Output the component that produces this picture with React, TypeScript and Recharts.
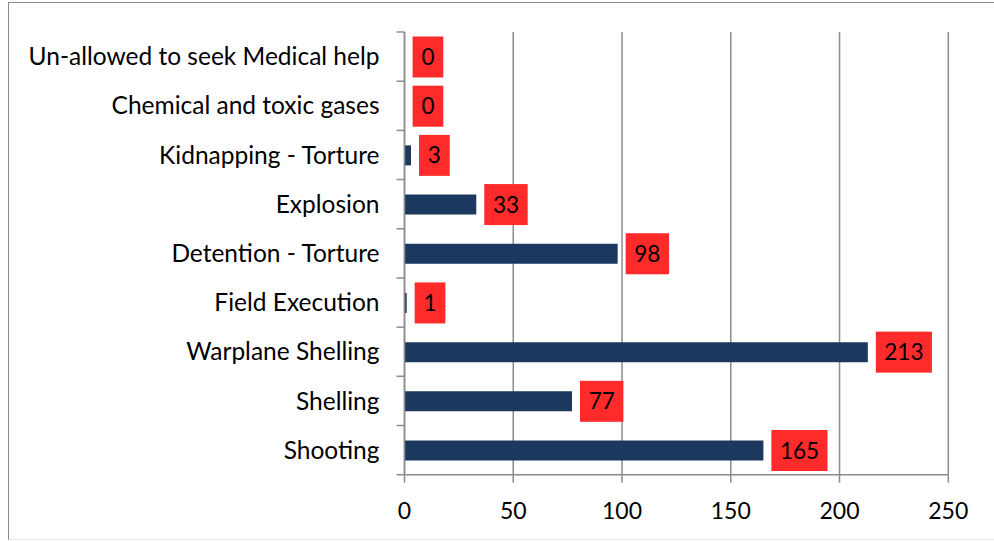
import { Bar, BarChart, CartesianGrid, LabelList, XAxis, YAxis } from 'recharts';

const categories = [
  'Un-allowed to seek Medical help',
  'Chemical and toxic gases',
  'Kidnapping - Torture',
  'Explosion',
  'Detention - Torture',
  'Field Execution',
  'Warplane Shelling',
  'Shelling',
  'Shooting',
];
const victims = [0, 0, 3, 33, 98, 1, 213, 77, 165];
const xTicks = [0, 50, 100, 150, 200, 250];

const FONT = 'Lato, "Open Sans", sans-serif';
const GRID = '#8c8c8c';
const W = 985;
const H = 536;
const MARGIN = { top: 29, right: 45.7, bottom: 24.3, left: 15.5 };
const Y_WIDTH = 380;
const X_HEIGHT = 40;
const PLOT_LEFT = MARGIN.left + Y_WIDTH;
const BAND = (H - MARGIN.top - MARGIN.bottom - X_HEIGHT) / categories.length;

const data = categories.map((name, i) => ({ name, value: victims[i] }));

function CategoryTick(props: any) {
  const { x, y, payload, index } = props;
  return (
    <g>
      <line x1={PLOT_LEFT - 8} x2={PLOT_LEFT} y1={y - BAND / 2} y2={y - BAND / 2} stroke={GRID} strokeWidth={1.5} />
      {index === categories.length - 1 && (
        <line x1={PLOT_LEFT - 8} x2={PLOT_LEFT} y1={y + BAND / 2} y2={y + BAND / 2} stroke={GRID} strokeWidth={1.5} />
      )}
      <text x={x} y={y} dy="0.355em" textAnchor="end" fill="#000" fontSize={24.5} fontFamily={FONT}>
        {payload.value}
      </text>
    </g>
  );
}

function ValueBox(props: any) {
  const { x, y, width, height, value } = props;
  const n = String(value).length;
  const bw = 18 + 12.7 * n;
  const bx = x + Math.max(width, 0) + 8;
  const cy = y + height / 2;
  return (
    <g>
      <rect x={bx} y={cy - 20.5} width={bw} height={41} fill="#ff2a2a" />
      <text x={bx + bw / 2} y={cy} dy="0.36em" textAnchor="middle" fill="#000" fontSize={22.5} fontFamily={FONT}>
        {value}
      </text>
    </g>
  );
}

export default function App() {
  return (
    <div
      style={{
        marginLeft: 8,
        marginTop: 2,
        width: W,
        height: H,
        borderTop: '1px solid #8a8a8a',
        borderLeft: '1px solid #8a8a8a',
        borderBottom: '1px solid #e6e6e6',
        background: '#fff',
      }}
    >
      <style>{'body{margin:0;overflow:hidden;background:#fff}'}</style>
      <BarChart width={W} height={H} data={data} layout="vertical" margin={MARGIN}>
        <CartesianGrid horizontal={false} stroke={GRID} strokeWidth={1.5} />
        <XAxis
          type="number"
          domain={[0, 250]}
          ticks={xTicks}
          height={X_HEIGHT}
          interval={0}
          tickSize={8}
          tickMargin={20}
          stroke={GRID}
          strokeWidth={1.5}
          tick={{ fill: '#000', fontSize: 23, fontFamily: FONT }}
        />
        <YAxis
          type="category"
          dataKey="name"
          width={Y_WIDTH}
          interval={0}
          tickLine={false}
          tickSize={8}
          tickMargin={17}
          stroke={GRID}
          strokeWidth={1.5}
          tick={(p: any) => <CategoryTick {...p} />}
        />
        <Bar dataKey="value" fill="#1b385e" barSize={20} minPointSize={0.1} isAnimationActive={false}>
          <LabelList dataKey="value" content={(p: any) => <ValueBox {...p} />} />
        </Bar>
      </BarChart>
    </div>
  );
}
